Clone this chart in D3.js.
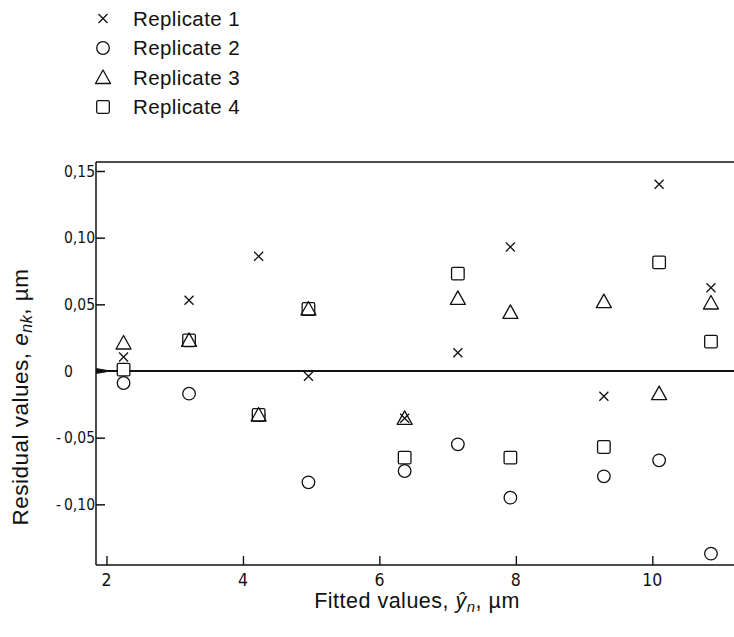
<!DOCTYPE html>
<html>
<head>
<meta charset="utf-8">
<script src="https://cdn.jsdelivr.net/npm/d3@7"></script>
<style>
  html, body { margin: 0; padding: 0; background: #fff; }
  svg { display: block; }
  .lbl { font-family: 'Liberation Sans', Arial, sans-serif; fill: #111; }
  .tick { font-family: 'Liberation Sans Narrow', 'DejaVu Sans Condensed', 'Liberation Sans', sans-serif; fill: #111; }
</style>
</head>
<body>
<script>
// ---- data ----
const fitted = [2.25, 3.21, 4.23, 4.96, 6.37, 7.15, 7.92, 9.29, 10.10, 10.86];
const replicate1 = [0.0105, 0.053, 0.086, -0.004, -0.0355, 0.0137, 0.093, -0.019, 0.140, 0.0625];
const replicate2 = [-0.009, -0.017, -0.033, -0.0835, -0.075, -0.055, -0.095, -0.079, -0.067, -0.137];
const replicate3 = [0.021, 0.023, -0.033, 0.0465, -0.0355, 0.0545, 0.044, 0.052, -0.017, 0.051];
const replicate4 = [0.001, 0.023, -0.033, 0.0465, -0.065, 0.073, -0.065, -0.057, 0.0815, 0.022];
const seriesNames = ["Replicate 1", "Replicate 2", "Replicate 3", "Replicate 4"];
const seriesShapes = ["cross", "circle", "triangle", "square"];
const xTicks = [2, 4, 6, 8, 10];
const xTickLabels = ["2", "4", "6", "8", "10"];
const yTicks = [0.15, 0.10, 0.05, 0, -0.05, -0.10];
const yTickLabels = ["0,15", "0,10", "0,05", "0", "0,05", "0,10"];

const W = 734, H = 637;
const svg = d3.select("body").append("svg").attr("width", W).attr("height", H);

const x = d3.scaleLinear().domain([2, 10]).range([106.5, 652.3]);
const y = d3.scaleLinear().domain([0, 0.15]).range([371, 171]);
const xMin = 1.846, xMax = 11.35, yMin = -0.1455, yMax = 0.1567;

// frame
const ink = "#111";
svg.append("line").attr("x1", x(xMin)).attr("x2", x(xMin)).attr("y1", y(yMax)).attr("y2", y(yMin))
  .attr("stroke", ink).attr("stroke-width", 1.5);
svg.append("line").attr("x1", x(xMin)).attr("x2", x(xMax)).attr("y1", y(yMax)).attr("y2", y(yMax))
  .attr("stroke", ink).attr("stroke-width", 1.5);
svg.append("line").attr("x1", x(xMin)).attr("x2", x(xMax)).attr("y1", y(yMin)).attr("y2", y(yMin))
  .attr("stroke", ink).attr("stroke-width", 1.6);
// zero line
svg.append("line").attr("x1", x(xMin)).attr("x2", x(xMax)).attr("y1", y(0)).attr("y2", y(0))
  .attr("stroke", ink).attr("stroke-width", 2);
// wedge at zero
svg.append("path")
  .attr("d", `M${x(xMin)},${y(0) - 3}L${x(xMin) + 17},${y(0)}L${x(xMin)},${y(0) + 3}Z`)
  .attr("fill", ink);

// y axis ticks (inward)
const yAxis = d3.axisRight(y).tickValues(yTicks).tickSize(9).tickFormat("");
const gy = svg.append("g").attr("transform", `translate(${x(xMin)},0)`).call(yAxis);
gy.select(".domain").remove();
gy.selectAll(".tick line").attr("stroke", ink).attr("stroke-width", 1.5);

// y tick labels (decimal aligned)
yTicks.forEach((v, i) => {
  svg.append("text").attr("class", "tick").attr("x", 64).attr("y", y(v)).attr("dy", "0.36em")
    .attr("font-size", 15.5).text(yTickLabels[i]);
  if (v < 0) {
    svg.append("text").attr("class", "tick").attr("x", 61).attr("y", y(v)).attr("dy", "0.36em")
      .attr("text-anchor", "end").attr("font-size", 15.5).text("-");
  }
});

// x axis ticks (inward, upward)
const xAxis = d3.axisTop(x).tickValues(xTicks).tickSize(9).tickFormat("");
const gx = svg.append("g").attr("transform", `translate(0,${y(yMin)})`).call(xAxis);
gx.select(".domain").remove();
gx.selectAll(".tick line").attr("stroke", ink).attr("stroke-width", 1.4);
xTicks.forEach((v, i) => {
  svg.append("text").attr("class", "tick").attr("x", x(v)).attr("y", y(yMin) + 15).attr("dy", "0.36em")
    .attr("text-anchor", "middle").attr("font-size", 17.5).text(xTickLabels[i]);
});

// marker drawing
function drawMarker(g, shape, cx, cy) {
  if (shape === "cross") {
    const s = 4.5;
    g.append("path").attr("d", `M${cx - s},${cy - s}L${cx + s},${cy + s}M${cx - s},${cy + s}L${cx + s},${cy - s}`)
      .attr("stroke", ink).attr("stroke-width", 1.3).attr("fill", "none");
  } else if (shape === "circle") {
    g.append("circle").attr("cx", cx).attr("cy", cy).attr("r", 6.3)
      .attr("stroke", ink).attr("stroke-width", 1.3).attr("fill", "#fff");
  } else if (shape === "triangle") {
    g.append("path").attr("d", `M${cx},${cy - 7.5}L${cx + 7.5},${cy + 6}L${cx - 7.5},${cy + 6}Z`)
      .attr("stroke", ink).attr("stroke-width", 1.3).attr("fill", "none").attr("stroke-linejoin", "round");
  } else if (shape === "square") {
    g.append("rect").attr("x", cx - 6.3).attr("y", cy - 6.3).attr("width", 12.6).attr("height", 12.6)
      .attr("rx", 1.5).attr("stroke", ink).attr("stroke-width", 1.3).attr("fill", "#fff");
  }
}

const seriesValues = [replicate1, replicate2, replicate3, replicate4];
const drawOrder = [1, 3, 2, 0];
const gm = svg.append("g");
drawOrder.forEach(si => {
  seriesValues[si].forEach((v, i) => drawMarker(gm, seriesShapes[si], x(fitted[i]), y(v)));
});

// legend
const lg = svg.append("g");
seriesNames.forEach((name, i) => {
  const cy = 18.5 + i * 29.5;
  drawMarker(lg, seriesShapes[i], 103, cy);
  lg.append("text").attr("class", "lbl").attr("x", 133).attr("y", cy).attr("dy", "0.36em")
    .attr("font-size", 20.5).attr("letter-spacing", 0.4).text(name);
});

// axis titles
const xt = svg.append("text").attr("class", "lbl").attr("x", 417).attr("y", 608)
  .attr("text-anchor", "middle").attr("font-size", 21.5).attr("letter-spacing", 0.5);
xt.append("tspan").text("Fitted values, ");
xt.append("tspan").attr("font-style", "italic").text("ŷ");
xt.append("tspan").attr("font-style", "italic").attr("font-size", 15).attr("dy", 4).text("n");
xt.append("tspan").attr("dy", -4).text(", µm");

const yt = svg.append("text").attr("class", "lbl")
  .attr("transform", `translate(28,397) rotate(-90)`)
  .attr("text-anchor", "middle").attr("font-size", 22.5).attr("letter-spacing", 0.5);
yt.append("tspan").text("Residual values, ");
yt.append("tspan").attr("font-style", "italic").text("e");
yt.append("tspan").attr("font-style", "italic").attr("font-size", 16).attr("dy", 4).text("nk");
yt.append("tspan").attr("dy", -4).text(", µm");
</script>
</body>
</html>
